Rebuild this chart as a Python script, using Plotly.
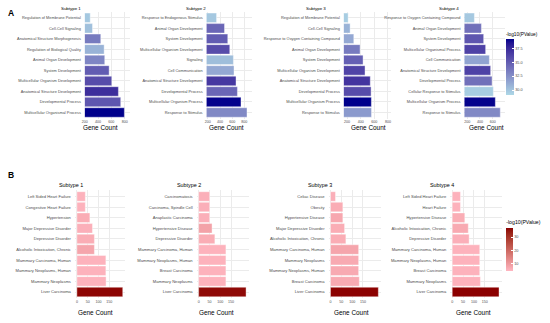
import plotly.graph_objects as go
import numpy as np

W, H = 550, 323

# ---------------- DATA ----------------
# Panel A (GO terms), listed top -> bottom
a1_terms = ["Regulation of Membrane Potential", "Cell-Cell Signaling", "Anatomical Structure Morphogenesis",
            "Regulation of Biological Quality", "Animal Organ Development", "System Development",
            "Multicellular Organism Development", "Anatomical Structure Development",
            "Developmental Process", "Multicellular Organismal Process"]
a1_count = [281, 315, 440, 491, 500, 566, 606, 706, 741, 796]
a1_logp = [29.8, 30.2, 33.5, 30.8, 33.0, 35.0, 35.8, 37.3, 35.3, 39.2]

a2_terms = ["Response to Endogenous Stimulus", "Animal Organ Development", "System Development",
            "Multicellular Organism Development", "Signaling", "Cell Communication",
            "Anatomical Structure Development", "Developmental Process",
            "Multicellular Organism Process", "Response to Stimulus"]
a2_count = [343, 474, 528, 561, 621, 631, 664, 687, 746, 845]
a2_logp = [29.8, 34.5, 35.0, 35.8, 30.3, 31.3, 36.8, 34.5, 39.1, 32.8]

a3_terms = ["Regulation of Membrane Potential", "Cell-Cell Signaling", "Response to Oxygen Containing Compound",
            "Animal Organ Development", "System Development", "Multicellular Organism Development",
            "Anatomical Structure Development", "Developmental Process",
            "Multicellular Organism Process", "Response to Stimulus"]
a3_count = [215, 244, 298, 390, 434, 463, 540, 552, 556, 558]
a3_logp = [29.6, 30.8, 31.3, 33.5, 34.8, 36.2, 37.0, 35.8, 39.2, 32.0]

a4_terms = ["Response to Oxygen Containing Compound", "Animal Organ Development", "System Development",
            "Multicellular Organismal Process", "Cell Communication", "Anatomical Structure Development",
            "Developmental Process", "Cellular Response to Stimulus",
            "Multicellular Organism Process", "Response to Stimulus"]
a4_count = [313, 422, 457, 488, 546, 566, 588, 608, 639, 716]
a4_logp = [29.8, 34.0, 35.3, 36.3, 31.5, 36.3, 34.0, 29.6, 39.1, 32.8]

a_ticks = [200, 400, 600, 800]
a_cbar_ticks = [30, 32.5, 35, 37.5]
a_cbar_text = ["30.0", "32.5", "35.0", "37.5"]

# Panel B (diseases), listed top -> bottom
b1_terms = ["Left Sided Heart Failure", "Congestive Heart Failure", "Hypertension",
            "Major Depressive Disorder", "Depressive Disorder", "Alcoholic Intoxication, Chronic",
            "Mammary Carcinoma, Human", "Mammary Neoplasms, Human", "Mammary Neoplasms", "Liver Carcinoma"]
b1_count = [39, 39, 60, 72, 81, 81, 134, 134, 135, 212]
b1_logp = [5.5, 5.5, 6.5, 6.0, 6.5, 8.0, 5.5, 5.5, 5.5, 36.5]

b2_terms = ["Carcinomatosis", "Carcinoma, Spindle Cell", "Anaplastic Carcinoma", "Hypertensive Disease",
            "Depressive Disorder", "Mammary Carcinoma, Human", "Mammary Neoplasms, Human",
            "Breast Carcinoma", "Mammary Neoplasms", "Liver Carcinoma"]
b2_count = [51, 51, 51, 62, 75, 126, 126, 126, 126, 219]
b2_logp = [6.0, 6.0, 6.0, 8.5, 6.5, 5.5, 5.5, 5.5, 5.5, 36.0]

b3_terms = ["Celiac Disease", "Obesity", "Hypertensive Disease", "Major Depressive Disorder",
            "Alcoholic Intoxication, Chronic", "Mammary Carcinoma, Human", "Mammary Neoplasms",
            "Mammary Neoplasms, Human", "Breast Carcinoma", "Liver Carcinoma"]
b3_count = [23, 57, 57, 65, 71, 130, 130, 130, 133, 221]
b3_logp = [6.0, 6.5, 7.5, 6.5, 6.5, 8.0, 7.0, 7.0, 7.0, 36.8]

b4_terms = ["Left Sided Heart Failure", "Heart Failure", "Hypertensive Disease",
            "Alcoholic Intoxication, Chronic", "Depressive Disorder", "Mammary Carcinoma, Human",
            "Mammary Neoplasms, Human", "Breast Carcinoma", "Mammary Neoplasms", "Liver Carcinoma"]
b4_count = [38, 38, 58, 74, 78, 127, 127, 127, 130, 216]
b4_logp = [5.5, 5.5, 6.5, 7.0, 6.0, 5.5, 5.5, 5.5, 5.5, 37.0]

b_ticks = [0, 50, 100, 150]
b_cbar_ticks = [10, 20, 30]

subtitles = ["Subtype 1", "Subtype 2", "Subtype 3", "Subtype 4"]

# ---------------- colour helpers (CIELAB interpolation like ggplot) ----------------
def _hex2rgb(h):
    h = h.lstrip('#')
    return np.array([int(h[i:i + 2], 16) / 255 for i in (0, 2, 4)])

M = np.array([[0.4124, 0.3576, 0.1805], [0.2126, 0.7152, 0.0722], [0.0193, 0.1192, 0.9505]])
WP = np.array([0.95047, 1.0, 1.08883])

def _rgb2lab(rgb):
    lin = np.where(rgb <= 0.04045, rgb / 12.92, ((rgb + 0.055) / 1.055) ** 2.4)
    xyz = M @ lin / WP
    f = np.where(xyz > 0.008856, np.cbrt(xyz), 7.787 * xyz + 16 / 116)
    return np.array([116 * f[1] - 16, 500 * (f[0] - f[1]), 200 * (f[1] - f[2])])

def _lab2rgb(lab):
    fy = (lab[0] + 16) / 116
    fx = fy + lab[1] / 500
    fz = fy - lab[2] / 200
    f = np.array([fx, fy, fz])
    xyz = np.where(f ** 3 > 0.008856, f ** 3, (f - 16 / 116) / 7.787) * WP
    lin = np.linalg.inv(M) @ xyz
    lin = np.clip(lin, 0, 1)
    rgb = np.where(lin <= 0.0031308, 12.92 * lin, 1.055 * lin ** (1 / 2.4) - 0.055)
    return np.clip(rgb, 0, 1)

def lab_scale(lo, hi, n=15):
    l1, l2 = _rgb2lab(_hex2rgb(lo)), _rgb2lab(_hex2rgb(hi))
    out = []
    for t in np.linspace(0, 1, n):
        c = _lab2rgb(l1 + (l2 - l1) * t)
        out.append([float(t), "rgb(%d,%d,%d)" % tuple((c * 255).round().astype(int))])
    return out

blue_scale = lab_scale("#ADD8E6", "#00008B")
red_scale = lab_scale("#FFB6C1", "#8B0000")

# ---------------- layout geometry (pixels) ----------------
FONT = "Liberation Sans, Arial, sans-serif"
A_TOP, A_BOT = 11.5, 118.8
B_TOP, B_BOT = 190.1, 298.4
a_dom = [(82.3, 128), (204.7, 250), (342.7, 390), (464, 505)]
a_rng = [(200, 885.5), (178.7, 921.6), (151.8, 842.4), (158.2, 793.6)]
b_dom = [(72.3, 123), (194.7, 247), (327.3, 380), (449.7, 502)]
b_rng = [(-9.2, 224), (-9.2, 231), (-9.2, 233), (-9.2, 231)]

a_title_x = [68, 193.8, 315, 448.7]
b_title_x = [68.3, 186.7, 319, 441]
a_gc_x = [98, 225, 367.7, 486]
b_gc_x = [92.7, 215, 350, 473]

def px(x):
    return x / W

def py(y):
    return 1 - y / H

fig = go.Figure()

a_sets = [(a1_terms, a1_count, a1_logp), (a2_terms, a2_count, a2_logp),
          (a3_terms, a3_count, a3_logp), (a4_terms, a4_count, a4_logp)]
b_sets = [(b1_terms, b1_count, b1_logp), (b2_terms, b2_count, b2_logp),
          (b3_terms, b3_count, b3_logp), (b4_terms, b4_count, b4_logp)]

layout = {}
annotations = []
idx = 0
for group, sets, doms, rngs, (top, bot), ticks, cax, cat_size in [
        ("A", a_sets, a_dom, a_rng, (A_TOP, A_BOT), a_ticks, "coloraxis", 3.9),
        ("B", b_sets, b_dom, b_rng, (B_TOP, B_BOT), b_ticks, "coloraxis2", 4.1)]:
    for k, (terms, counts, logp) in enumerate(sets):
        idx += 1
        xa = "x" if idx == 1 else "x%d" % idx
        ya = "y" if idx == 1 else "y%d" % idx
        fig.add_trace(go.Bar(
            x=counts, y=terms, orientation="h", xaxis=xa, yaxis=ya,
            marker=dict(color=logp, coloraxis=cax, line=dict(color="white", width=0.4)),
            showlegend=False, hoverinfo="x+y"))
        xkey = "xaxis" if idx == 1 else "xaxis%d" % idx
        ykey = "yaxis" if idx == 1 else "yaxis%d" % idx
        layout[xkey] = dict(
            domain=[px(doms[k][0]), px(doms[k][1])], anchor=ya, range=list(rngs[k]),
            tickvals=ticks, showgrid=True, gridcolor="#EBEBEB", gridwidth=0.5,
            zeroline=False, showline=False, ticks="", ticklabelstandoff=0,
            tickfont=dict(size=3.6, color="#4D4D4D", family=FONT))
        layout[ykey] = dict(
            domain=[py(bot), py(top)], anchor=xa, type="category",
            categoryorder="array", categoryarray=terms, range=[len(terms) - 1 + 0.6, -0.6],
            showgrid=True, gridcolor="#EBEBEB", gridwidth=0.5, zeroline=False, showline=False,
            ticks="", ticklabelstandoff=3,
            tickfont=dict(size=cat_size, color="#4D4D4D", family=FONT))

# titles and axis labels
for k in range(4):
    annotations.append(dict(text=subtitles[k], x=px(a_title_x[k]), y=py(9), xref="paper", yref="paper",
                            showarrow=False, xanchor="center", yanchor="middle",
                            font=dict(size=4.4, color="black", family=FONT)))
    annotations.append(dict(text=subtitles[k], x=px(b_title_x[k]), y=py(184.5), xref="paper", yref="paper",
                            showarrow=False, xanchor="center", yanchor="middle",
                            font=dict(size=5.4, color="black", family=FONT)))
    annotations.append(dict(text="Gene Count", x=px(a_gc_x[k]), y=py(127), xref="paper", yref="paper",
                            showarrow=False, xanchor="center", yanchor="middle",
                            font=dict(size=6.4, color="black", family=FONT)))
    annotations.append(dict(text="Gene Count", x=px(b_gc_x[k]), y=py(312.5), xref="paper", yref="paper",
                            showarrow=False, xanchor="center", yanchor="middle",
                            font=dict(size=6.4, color="black", family=FONT)))

annotations.append(dict(text="<b>A</b>", x=px(8.3), y=py(13), xref="paper", yref="paper", showarrow=False,
                        xanchor="center", yanchor="middle", font=dict(size=8.5, color="black", family=FONT)))
annotations.append(dict(text="<b>B</b>", x=px(8.5), y=py(175.5), xref="paper", yref="paper", showarrow=False,
                        xanchor="center", yanchor="middle", font=dict(size=8.5, color="black", family=FONT)))

fig.update_layout(
    width=W, height=H, margin=dict(l=0, r=0, t=0, b=0),
    paper_bgcolor="white", plot_bgcolor="white",
    font=dict(family=FONT, color="#4D4D4D"),
    bargap=0.1, annotations=annotations,
    coloraxis=dict(
        colorscale=blue_scale, cmin=29.1, cmax=39.2,
        colorbar=dict(x=px(505.7), xanchor="left", y=py(95), yanchor="bottom",
                      len=66, lenmode="pixels", thickness=8.3, thicknessmode="pixels",
                      xpad=0, ypad=0, outlinewidth=0, tickvals=a_cbar_ticks, ticktext=a_cbar_text,
                      ticks="inside", ticklen=1.5, tickcolor="white",
                      tickfont=dict(size=3.8, color="#4D4D4D", family=FONT),
                      title=dict(text="-log10(PValue)", side="top",
                                 font=dict(size=4.75, color="black", family=FONT)))),
    coloraxis2=dict(
        colorscale=red_scale, cmin=4.7, cmax=37,
        colorbar=dict(x=px(506), xanchor="left", y=py(270.7), yanchor="bottom",
                      len=53.5, lenmode="pixels", thickness=7.3, thicknessmode="pixels",
                      xpad=0, ypad=0, outlinewidth=0, tickvals=b_cbar_ticks,
                      ticks="inside", ticklen=1.5, tickcolor="white",
                      tickfont=dict(size=3.8, color="#4D4D4D", family=FONT),
                      title=dict(text="-log10(PValue)", side="top",
                                 font=dict(size=5.2, color="black", family=FONT)))),
    **layout)

fig.write_html("out.html", config={"displayModeBar": False},
               post_script="document.body.style.margin='0px';document.body.style.padding='0px';")
